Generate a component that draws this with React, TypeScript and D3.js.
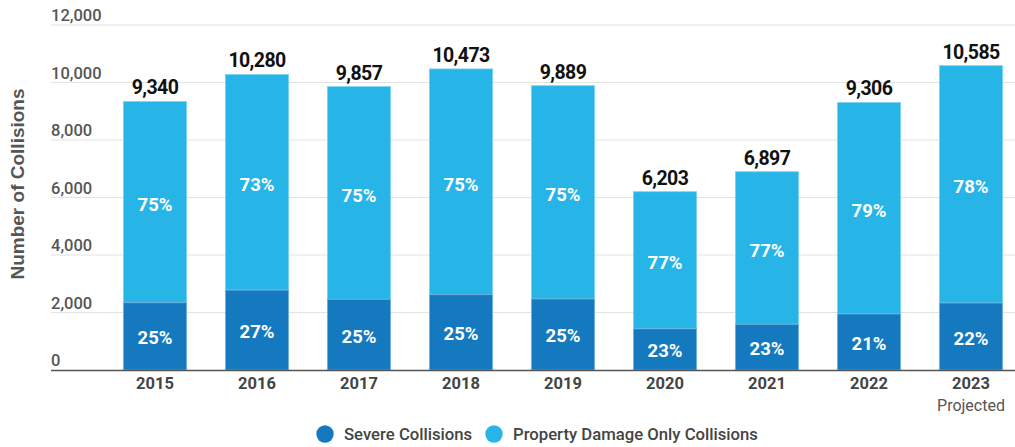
import * as d3 from 'd3';
import { useEffect, useRef } from 'react';

const years = ['2015', '2016', '2017', '2018', '2019', '2020', '2021', '2022', '2023'];
const totals = [9340, 10280, 9857, 10473, 9889, 6203, 6897, 9306, 10585];
const severe = [2340, 2780, 2460, 2620, 2470, 1430, 1590, 1950, 2330];
const severePct = ['25%', '27%', '25%', '25%', '25%', '23%', '23%', '21%', '22%'];
const propertyPct = ['75%', '73%', '75%', '75%', '75%', '77%', '77%', '79%', '78%'];
const yTicks = [0, 2000, 4000, 6000, 8000, 10000, 12000];

const SEVERE = '#1479be';
const PROPERTY = '#27b5e8';
const FONT = 'Roboto, sans-serif';

export default function App() {
  const ref = useRef<SVGSVGElement>(null);

  useEffect(() => {
    const width = 1015;
    const height = 447;
    const svg = d3.select(ref.current);
    svg.selectAll('*').remove();
    svg.attr('width', width).attr('height', height);

    const x = d3.scaleBand()
      .domain(years)
      .range([104, 1022])
      .paddingInner(0.38)
      .paddingOuter(0.19);

    const y = d3.scaleLinear().domain([0, 12000]).range([370, 25]);

    // gridlines + tick labels
    const grid = svg.append('g');
    grid.selectAll('line')
      .data(yTicks.slice(1))
      .enter()
      .append('line')
      .attr('x1', 51)
      .attr('x2', width)
      .attr('y1', d => y(d))
      .attr('y2', d => y(d))
      .attr('stroke', '#e2e2e2')
      .attr('stroke-width', 1);

    grid.selectAll('text')
      .data(yTicks)
      .enter()
      .append('text')
      .attr('x', 51)
      .attr('y', d => y(d) - 4)
      .text(d => d3.format(',')(d))
      .style('font-family', FONT)
      .style('font-weight', 500)
      .style('font-size', '16.5px')
      .attr('fill', '#555');

    const bars = svg.append('g');
    const rows = years.map((yr, i) => ({ yr, total: totals[i], sev: severe[i], i }));

    bars.selectAll('rect.property')
      .data(rows)
      .enter()
      .append('rect')
      .attr('class', 'property')
      .attr('x', d => x(d.yr)!)
      .attr('width', x.bandwidth())
      .attr('y', d => y(d.total))
      .attr('height', d => y(d.sev) - y(d.total))
      .attr('fill', PROPERTY)
      .attr('stroke', '#7fd3f2')
      .attr('stroke-width', 0.8);

    bars.selectAll('rect.severe')
      .data(rows)
      .enter()
      .append('rect')
      .attr('class', 'severe')
      .attr('x', d => x(d.yr)!)
      .attr('width', x.bandwidth())
      .attr('y', d => y(d.sev))
      .attr('height', d => y(0) - y(d.sev))
      .attr('fill', SEVERE)
      .attr('stroke', '#6fb0dd')
      .attr('stroke-width', 0.8);

    const cx = (d: { yr: string }) => x(d.yr)! + x.bandwidth() / 2;

    // percent labels
    bars.selectAll('text.ppct')
      .data(rows)
      .enter()
      .append('text')
      .attr('class', 'ppct')
      .attr('x', cx)
      .attr('y', d => (y(d.total) + y(d.sev)) / 2 + 9)
      .attr('text-anchor', 'middle')
      .text(d => propertyPct[d.i])
      .style('font-family', FONT)
      .style('font-weight', 700)
      .style('font-size', '18.5px')
      .attr('fill', '#fff');

    bars.selectAll('text.spct')
      .data(rows)
      .enter()
      .append('text')
      .attr('class', 'spct')
      .attr('x', cx)
      .attr('y', d => (y(d.sev) + y(0)) / 2 + 8)
      .attr('text-anchor', 'middle')
      .text(d => severePct[d.i])
      .style('font-family', FONT)
      .style('font-weight', 700)
      .style('font-size', '18.5px')
      .attr('fill', '#fff');

    // totals
    bars.selectAll('text.total')
      .data(rows)
      .enter()
      .append('text')
      .attr('class', 'total')
      .attr('x', cx)
      .attr('y', d => y(d.total) - 7)
      .attr('text-anchor', 'middle')
      .text(d => d3.format(',')(d.total))
      .style('font-family', FONT)
      .style('font-weight', 700)
      .style('font-size', '19.5px')
      .style('letter-spacing', '-0.6px')
      .attr('fill', '#111');

    // baseline
    svg.append('line')
      .attr('x1', 51)
      .attr('x2', width)
      .attr('y1', y(0) + 0.5)
      .attr('y2', y(0) + 0.5)
      .attr('stroke', '#555')
      .attr('stroke-width', 1.5);

    // x labels
    svg.append('g').selectAll('text')
      .data(years)
      .enter()
      .append('text')
      .attr('x', d => x(d)! + x.bandwidth() / 2)
      .attr('y', 389)
      .attr('text-anchor', 'middle')
      .text(d => d)
      .style('font-family', FONT)
      .style('font-weight', 700)
      .style('font-size', '16.5px')
      .attr('fill', '#444');

    svg.append('text')
      .attr('x', x('2023')! + x.bandwidth() / 2)
      .attr('y', 411)
      .attr('text-anchor', 'middle')
      .text('Projected')
      .style('font-family', FONT)
      .style('font-size', '16px')
      .attr('fill', '#555');

    // y title
    svg.append('text')
      .attr('transform', 'translate(24,184) rotate(-90)')
      .attr('text-anchor', 'middle')
      .text('Number of Collisions')
      .style('font-family', '"Liberation Sans", Arial, sans-serif')
      .style('font-weight', 700)
      .style('font-size', '19px')
      .attr('fill', '#555');

    // legend
    const legend = [
      { label: 'Severe Collisions', color: SEVERE, x: 325 },
      { label: 'Property Damage Only Collisions', color: PROPERTY, x: 494 },
    ];
    const lg = svg.append('g');
    lg.selectAll('circle')
      .data(legend)
      .enter()
      .append('circle')
      .attr('cx', d => d.x)
      .attr('cy', 434)
      .attr('r', 8.7)
      .attr('fill', d => d.color);
    lg.selectAll('text')
      .data(legend)
      .enter()
      .append('text')
      .attr('x', d => d.x + 19)
      .attr('y', 440)
      .text(d => d.label)
      .style('font-family', FONT)
      .style('font-weight', 500)
      .style('font-size', '16.7px')
      .attr('fill', '#444');

    return () => {
      svg.selectAll('*').remove();
    };
  }, []);

  return <svg ref={ref} style={{ position: 'absolute', left: 0, top: 0 }} />;
}
